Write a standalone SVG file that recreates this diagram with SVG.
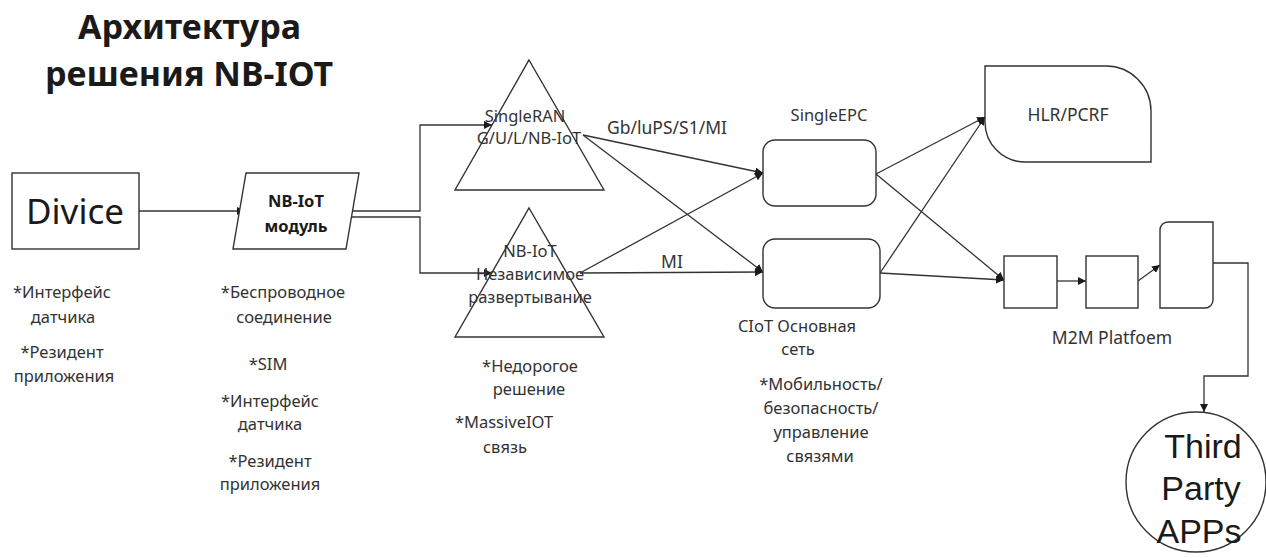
<svg xmlns="http://www.w3.org/2000/svg" width="1266" height="558" viewBox="0 0 1266 558">
<style>
  .shape { fill: #ffffff; stroke: #333333; stroke-width: 1.4; }
  .conn { fill: none; stroke: #333333; stroke-width: 1.3; }
  text { font-family: "Noto Sans", "Open Sans", "DejaVu Sans", sans-serif; fill: #333333; text-anchor: middle; }
  .lbl { font-size: 16.5px; }
  .lbl2 { font-size: 17.5px; }
  .title { font-size: 34px; font-weight: bold; fill: #1a1a1a; text-anchor: start; }
  .big { font-size: 35px; fill: #1a1a1a; }
  .huge { font-family: "Liberation Sans", Arial, sans-serif; font-size: 34px; fill: #1a1a1a; }
  .bold { font-size: 16.5px; font-weight: bold; fill: #1a1a1a; }
</style>
<defs>
  <marker id="arr" viewBox="0 0 10 10" refX="10" refY="5" markerWidth="8" markerHeight="8" markerUnits="userSpaceOnUse" orient="auto">
    <path d="M0,0 L10,5 L0,10 z" fill="#1a1a1a"/>
  </marker>
</defs>

<g id="title">
  <text class="title" x="78" y="39">Архитектура</text>
  <text class="title" x="45" y="86">решения NB-IOT</text>
</g>

<g id="connectors">
  <line class="conn" x1="139" y1="211" x2="245" y2="211" marker-end="url(#arr)"/>
  <path class="conn" d="M352 211 H420 V125 H492" marker-end="url(#arr)"/>
  <path class="conn" d="M351 217 H420 V273 H492" marker-end="url(#arr)"/>
  <line class="conn" x1="583" y1="135" x2="763" y2="173" marker-end="url(#arr)"/>
  <line class="conn" x1="583" y1="135" x2="763" y2="272" marker-end="url(#arr)"/>
  <line class="conn" x1="580" y1="273" x2="763" y2="173" marker-end="url(#arr)"/>
  <line class="conn" x1="580" y1="273" x2="763" y2="272" marker-end="url(#arr)"/>
  <line class="conn" x1="876" y1="174" x2="985" y2="117" marker-end="url(#arr)"/>
  <line class="conn" x1="876" y1="174" x2="1004" y2="280" marker-end="url(#arr)"/>
  <line class="conn" x1="880" y1="273" x2="985" y2="117" marker-end="url(#arr)"/>
  <line class="conn" x1="880" y1="273" x2="1004" y2="280" marker-end="url(#arr)"/>
  <line class="conn" x1="1057" y1="281" x2="1086" y2="281" marker-end="url(#arr)"/>
  <line class="conn" x1="1138" y1="281" x2="1160" y2="265" marker-end="url(#arr)"/>
  <path class="conn" d="M1213 263 H1248 V376 H1204 V412" marker-end="url(#arr)"/>
  <text class="lbl2" x="667" y="134">Gb/luPS/S1/MI</text>
  <text class="lbl2" x="672" y="268">MI</text>
</g>

<g id="device">
  <rect class="shape" x="12" y="173" width="127" height="76"/>
  <text class="big" x="75" y="224">Divice</text>
  <text class="lbl" x="62" y="298">*Интерфейс</text>
  <text class="lbl" x="63" y="323">датчика</text>
  <text class="lbl" x="62" y="358">*Резидент</text>
  <text class="lbl" x="64" y="382">приложения</text>
</g>

<g id="module">
  <polygon class="shape" points="246,173 359,173 346,249 233,249"/>
  <text class="bold" x="296" y="207">NB-IoT</text>
  <text class="bold" x="296" y="232">модуль</text>
  <text class="lbl" x="283" y="298">*Беспроводное</text>
  <text class="lbl" x="284" y="323">соединение</text>
  <text class="lbl" x="268" y="370">*SIM</text>
  <text class="lbl" x="270" y="407">*Интерфейс</text>
  <text class="lbl" x="270" y="430">датчика</text>
  <text class="lbl" x="270" y="467">*Резидент</text>
  <text class="lbl" x="270" y="490">приложения</text>
</g>

<g id="singleran">
  <polygon class="shape" style="fill:none" points="529,60 604,190 455,190"/>
  <text class="lbl" x="525" y="122">SingleRAN</text>
  <text class="lbl" x="529" y="144">G/U/L/NB-IoT</text>
</g>

<g id="nbiot">
  <polygon class="shape" style="fill:none" points="529,208 604,337 455,337"/>
  <text class="lbl" x="530" y="257">NB-IoT</text>
  <text class="lbl" x="530" y="280">Независимое</text>
  <text class="lbl" x="530" y="303">развертывание</text>
  <text class="lbl" x="530" y="372">*Недорогое</text>
  <text class="lbl" x="529" y="395">решение</text>
  <text class="lbl" x="504" y="428">*MassiveIOT</text>
  <text class="lbl" x="505" y="453">связь</text>
</g>

<g id="singleepc">
  <rect class="shape" x="763" y="140" width="113" height="66" rx="12"/>
  <text class="lbl" x="829" y="121">SingleEPC</text>
</g>

<g id="ciot">
  <rect class="shape" x="763" y="239" width="117" height="69" rx="12"/>
  <text class="lbl" x="797" y="332">CIoT Основная</text>
  <text class="lbl" x="798" y="355">сеть</text>
  <text class="lbl" x="821" y="390">*Мобильность/</text>
  <text class="lbl" x="821" y="414">безопасность/</text>
  <text class="lbl" x="821" y="438">управление</text>
  <text class="lbl" x="820" y="462">связями</text>
</g>

<g id="hlr">
  <path class="shape" d="M985 66 H1106 A45 45 0 0 1 1151 111 V162 H1025 A40 40 0 0 1 985 122 Z"/>
  <text class="lbl2" x="1068" y="121">HLR/PCRF</text>
</g>

<g id="m2m">
  <rect class="shape" x="1004" y="256" width="53" height="52"/>
  <rect class="shape" x="1086" y="256" width="52" height="52"/>
  <path class="shape" d="M1168 222 H1213 V300 A8 8 0 0 1 1205 308 H1160 V230 A8 8 0 0 1 1168 222 Z"/>
  <text class="lbl2" x="1112" y="344">M2M Platfoem</text>
</g>

<g id="third-party">
  <circle class="shape" cx="1196" cy="482" r="70"/>
  <text class="huge" x="1203" y="458">Third</text>
  <text class="huge" x="1201" y="500">Party</text>
  <text class="huge" x="1199" y="543">APPs</text>
</g>
</svg>
